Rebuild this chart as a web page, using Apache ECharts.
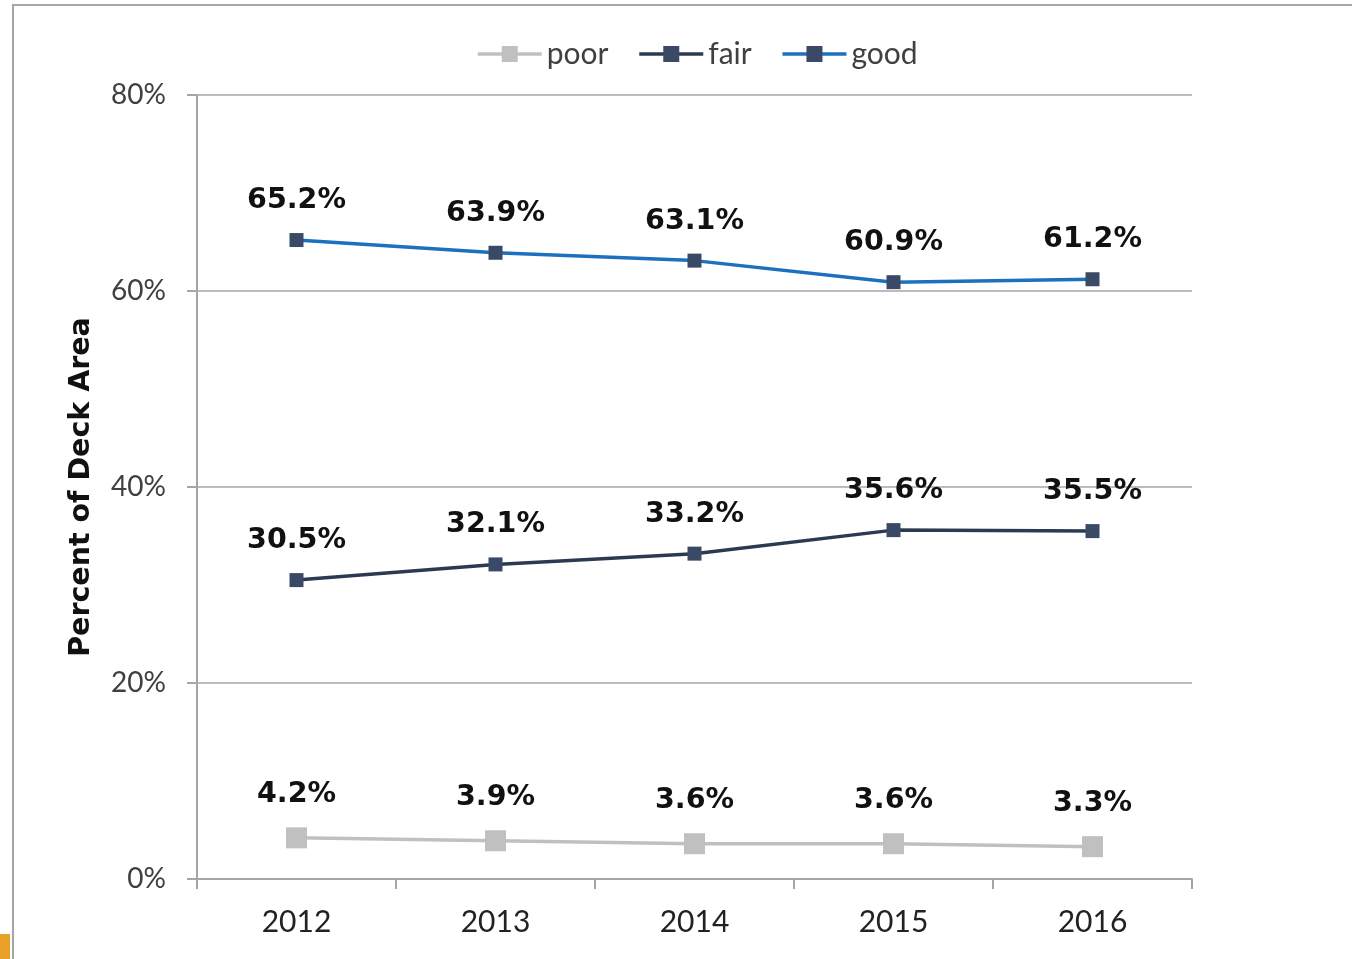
<!DOCTYPE html>
<html>
<head>
<meta charset="utf-8">
<title>Percent of Deck Area</title>
<script src="https://cdn.jsdelivr.net/npm/echarts@6/dist/echarts.min.js"></script>
<style>
  html, body { margin: 0; padding: 0; background: #fff; }
  #chart { width: 1352px; height: 959px; }
  .frame { position: absolute; left: 12px; top: 4px; right: 0; bottom: 0;
           border-top: 2px solid #a6a6a6; border-left: 2px solid #a6a6a6; pointer-events: none; }
  .tab { position: absolute; left: 0; top: 934px; width: 10px; height: 25px; background: #e8a228; }
</style>
</head>
<body>
<div id="chart"></div>
<div class="frame"></div>
<div class="tab"></div>
<script>
// Share of bridge deck area by condition rating, 2012-2016
const years = ['2012', '2013', '2014', '2015', '2016'];
const poor = [4.2, 3.9, 3.6, 3.6, 3.3];
const fair = [30.5, 32.1, 33.2, 35.6, 35.5];
const good = [65.2, 63.9, 63.1, 60.9, 61.2];

const axisFont = 'Lato, "Open Sans", sans-serif';
const boldFont = '"DejaVu Sans", Verdana, sans-serif';

function lineSeries(name, data, lineColor, markColor, markSize) {
  return {
    name: name,
    type: 'line',
    data: data,
    symbol: 'rect',
    symbolSize: markSize,
    lineStyle: { color: lineColor, width: 3.5 },
    itemStyle: { color: markColor },
    label: {
      show: true,
      position: 'top',
      distance: 18,
      formatter: p => p.value.toFixed(1) + '%',
      fontFamily: boldFont,
      fontWeight: 'bold',
      fontSize: 28.5,
      color: '#111'
    },
    emphasis: { disabled: true },
    animation: false
  };
}

const chart = echarts.init(document.getElementById('chart'));
chart.setOption({
  backgroundColor: '#fff',
  legend: {
    top: 34,
    left: 471,
    itemWidth: 64,
    itemHeight: 20,
    itemGap: 29,
    lineStyle: { width: 3.5 },
    textStyle: { fontFamily: axisFont, fontSize: 30, color: '#404040' },
    data: ['poor', 'fair', 'good']
  },
  grid: { left: 197, right: 160, top: 95, bottom: 80 },
  xAxis: {
    type: 'category',
    data: years,
    boundaryGap: true,
    axisLine: { lineStyle: { color: '#a6a6a6', width: 2 } },
    axisTick: { show: true, length: 10, lineStyle: { color: '#a6a6a6', width: 2 } },
    axisLabel: { margin: 28, fontFamily: axisFont, fontSize: 30, color: '#222' }
  },
  yAxis: {
    type: 'value',
    min: 0,
    max: 80,
    interval: 20,
    name: 'Percent of Deck Area',
    nameLocation: 'middle',
    nameGap: 101,
    nameTextStyle: { fontFamily: boldFont, fontWeight: 'bold', fontSize: 28.5, color: '#111' },
    axisLine: { show: true, lineStyle: { color: '#a6a6a6', width: 2 } },
    axisTick: { show: true, length: 10, lineStyle: { color: '#a6a6a6', width: 2 } },
    splitLine: { lineStyle: { color: '#a6a6a6', width: 1.5 } },
    axisLabel: { margin: 31, formatter: '{value}%', fontFamily: axisFont, fontSize: 28, color: '#404040' }
  },
  series: [
    lineSeries('poor', poor, '#c0c0c0', '#c0c0c0', 21),
    lineSeries('fair', fair, '#2b3a52', '#3a4a66', 14),
    lineSeries('good', good, '#1c70bd', '#3a4a66', 14)
  ]
});
</script>
</body>
</html>
